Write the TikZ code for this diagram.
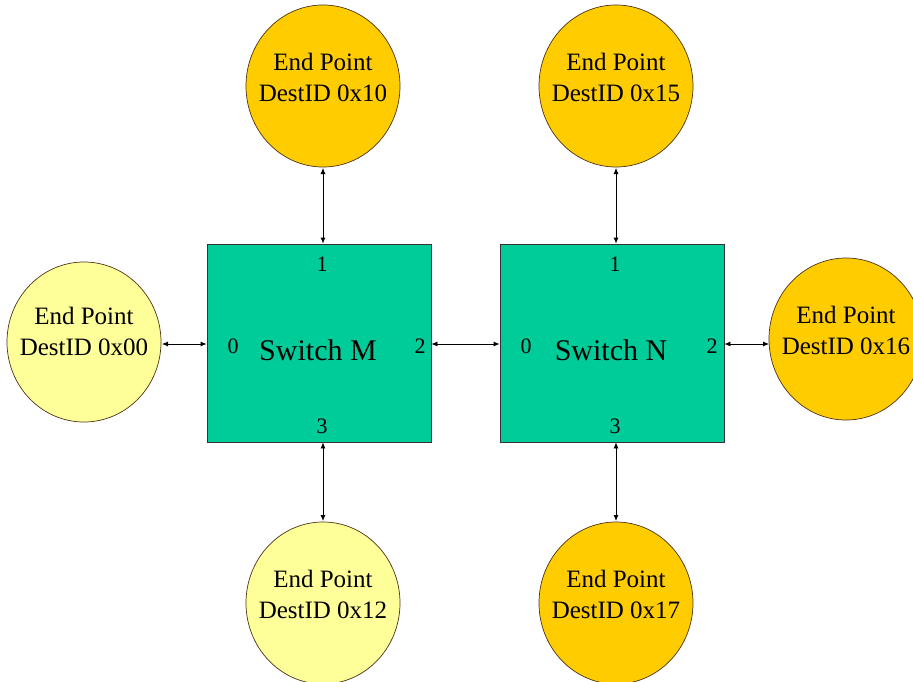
\documentclass[tikz,border=0pt]{standalone}
\usepackage{fontspec}
\setmainfont{Liberation Serif}
\usetikzlibrary{arrows.meta}
\definecolor{lightep}{HTML}{FFFF99}
\definecolor{goldep}{HTML}{FFCC00}
\definecolor{switchc}{HTML}{00CC99}
\begin{document}
\begin{tikzpicture}[x=1pt,y=-1pt,
  epline/.style={draw=black!60!brown, line width=0.7pt},
  eptext/.style={font=\fontsize{25}{31}\selectfont, align=center},
  sw/.style={draw=black!80, line width=0.8pt, fill=switchc, minimum width=224pt, minimum height=198pt, inner sep=0pt},
  swtext/.style={font=\fontsize{30}{32}\selectfont},
  port/.style={font=\fontsize{22}{24}\selectfont, inner sep=0pt},
  link/.style={line width=0.8pt, {Latex[length=6pt,width=5pt]}-{Latex[length=6pt,width=5pt]}}
]
\useasboundingbox (0,0) rectangle (913,682);
\begin{scope}
\clip (0,0) rectangle (913,682);
% switches
\node[sw] (M) at (319,343) {};
\node[sw] (N) at (612,343) {};
\node[swtext] at (318,350) {Switch M};
\node[swtext] at (611,350) {Switch N};
% ports
\node[port] (m1) at (322,264) {1};
\node[port] (m3) at (322,426) {3};
\node[port] (m0) at (233,346) {0};
\node[port] (m2) at (420,346) {2};
\node[port] (n1) at (615,264) {1};
\node[port] (n3) at (615,426) {3};
\node[port] (n0) at (526,346) {0};
\node[port] (n2) at (712,346) {2};
% end points
\path[epline, fill=goldep] (323,86) ellipse [x radius=77, y radius=81];
\node[eptext] (e10) at (323,77) {End Point\\DestID 0x10};
\path[epline, fill=goldep] (616,86) ellipse [x radius=77, y radius=81];
\node[eptext] (e15) at (616,77) {End Point\\DestID 0x15};
\path[epline, fill=lightep] (84,342) ellipse [x radius=77, y radius=80];
\node[eptext] (e00) at (84,331) {End Point\\DestID 0x00};
\path[epline, fill=goldep] (846,339) ellipse [x radius=77, y radius=81];
\node[eptext] (e16) at (846,330) {End Point\\DestID 0x16};
\path[epline, fill=lightep] (323,603) ellipse [x radius=77, y radius=81];
\node[eptext] (e12) at (323,594) {End Point\\DestID 0x12};
\path[epline, fill=goldep] (616,603) ellipse [x radius=77, y radius=81];
\node[eptext] (e17) at (616,594) {End Point\\DestID 0x17};
% anchor coordinates
\coordinate (c10) at (323,168);
\coordinate (c15) at (616,168);
\coordinate (c00) at (162,344);
\coordinate (c16) at (769,344);
\coordinate (c12) at (323,521);
\coordinate (c17) at (616,521);
\end{scope}
% links
\draw[link] (c10) -- (M.north -| c10);
\draw[link] (c15) -- (N.north -| c15);
\draw[link] (c00) -- (M.west |- c00);
\draw[link] (c16) -- (N.east |- c16);
\draw[link] (c12) -- (M.south -| c12);
\draw[link] (c17) -- (N.south -| c17);
\draw[link] (M.east |- c00) -- (N.west |- c00);
\end{tikzpicture}
\end{document}
